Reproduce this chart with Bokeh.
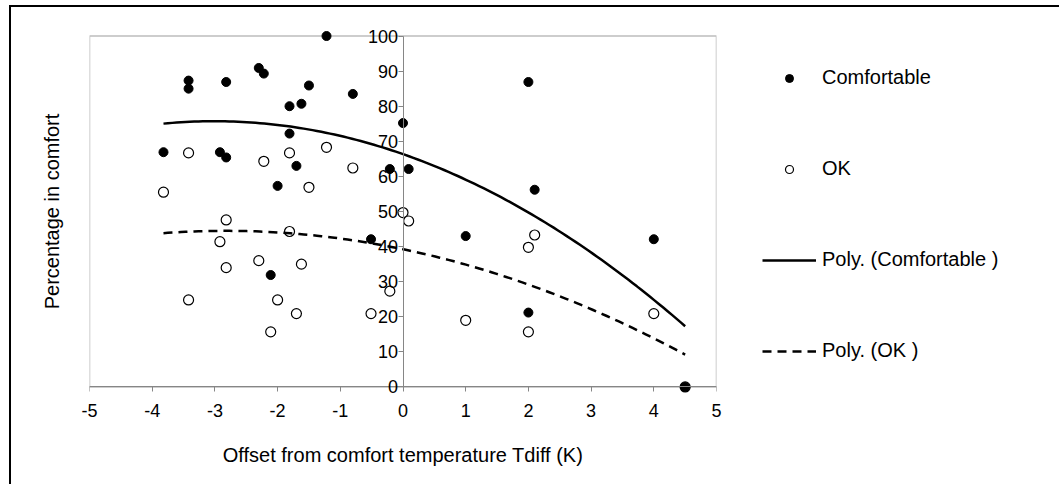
import numpy as np
from bokeh.plotting import figure
from bokeh.models import (Range1d, FixedTicker, Legend, LegendItem, BoxAnnotation,
                          Title, LinearAxis)
from bokeh.embed import file_html
from bokeh.resources import INLINE

# ---- data ----
tdiff = [-3.82, -3.42, -3.42, -2.92, -2.82, -2.82, -2.30, -2.22, -2.11, -2.00,
         -1.81, -1.81, -1.70, -1.62, -1.50, -1.22, -0.80, -0.51, -0.21, 0.0,
         0.09, 1.0, 2.0, 2.0, 2.1, 4.0, 4.5]
comfortable = [66.9, 87.3, 85.0, 66.9, 86.9, 65.4, 90.9, 89.3, 31.9, 57.3,
               80.0, 72.2, 63.0, 80.7, 85.9, 100.0, 83.5, 42.1, 62.1, 75.2,
               62.1, 43.0, 86.9, 21.2, 56.2, 42.1, 0.0]
ok = [55.5, 66.7, 24.8, 41.4, 47.6, 34.0, 36.0, 64.3, 15.7, 24.8,
      66.7, 44.3, 20.9, 35.0, 56.9, 68.3, 62.4, 20.9, 27.3, 49.7,
      47.3, 19.0, 39.8, 15.7, 43.3, 20.9, 0.0]
x_ticks = [-5, -4, -3, -2, -1, 0, 1, 2, 3, 4, 5]
y_ticks = [0, 10, 20, 30, 40, 50, 60, 70, 80, 90, 100]
x_title = "Offset from comfort temperature Tdiff (K)"
y_title = "Percentage in comfort"
labels = ["Comfortable", "OK", "Poly. (Comfortable )", "Poly. (OK )"]

# ---- 2nd order polynomial trendlines (as Excel's "Poly." trendline) ----
xa = np.array(tdiff)
cc = np.polyfit(xa, np.array(comfortable), 2)
co = np.polyfit(xa, np.array(ok), 2)
xt = np.linspace(xa.min(), xa.max(), 120)
yt_c = np.polyval(cc, xt)
yt_o = np.polyval(co, xt)

FONT = "Liberation Sans"

p = figure(frame_width=627, frame_height=372,
           min_border_left=78, min_border_right=341,
           min_border_top=18, min_border_bottom=87,
           x_range=Range1d(-5, 5), y_range=Range1d(-3, 103),
           output_backend="svg", toolbar_location=None,
           background_fill_color="white", border_fill_color="white")
p.outline_line_color = None
p.xgrid.visible = False
p.ygrid.visible = False

# plot-area border (axis limits)
box = BoxAnnotation(left=-5, right=5, bottom=0, top=100, fill_color=None,
                    line_color="#262626", line_width=1.5, level="underlay")
p.add_layout(box)

r_o = p.scatter(tdiff, ok, size=10, marker="circle",
                fill_color="white", line_color="black", line_width=1.2)
r_c = p.scatter(tdiff, comfortable, size=9, marker="circle",
                fill_color="black", line_color="black")
r_tc = p.line(xt, yt_c, line_color="black", line_width=2.5)
r_to = p.line(xt, yt_o, line_color="black", line_width=2.5, line_dash="9 6")

# x axis line + ticks at y = 0
xax = p.xaxis[0]
xax.fixed_location = 0
xax.ticker = FixedTicker(ticks=x_ticks)
xax.bounds = (-5, 5)
xax.minor_tick_line_color = None
xax.major_tick_out = 5
xax.major_tick_in = 0
xax.axis_line_color = "#868686"
xax.major_tick_line_color = "#868686"
xax.major_label_text_color = None

# x tick labels + title (below panel)
xlab = LinearAxis(ticker=FixedTicker(ticks=x_ticks),
                  major_label_overrides={t: str(t) for t in x_ticks},
                  axis_line_color=None, major_tick_line_color=None,
                  minor_tick_line_color=None, major_tick_out=0, major_tick_in=0,
                  major_label_text_font=FONT, major_label_text_font_size="18px",
                  major_label_text_color="black", major_label_standoff=6,
                  axis_label=x_title, axis_label_text_font=FONT,
                  axis_label_text_font_size="20px",
                  axis_label_text_font_style="normal",
                  axis_label_text_color="black", axis_label_standoff=24)
p.add_layout(xlab, "below")

yax = p.yaxis[0]
yax.fixed_location = 0
yax.ticker = FixedTicker(ticks=y_ticks)
yax.bounds = (0, 100)
yax.minor_tick_line_color = None
yax.major_tick_out = 5
yax.major_tick_in = 0
yax.axis_line_color = "#868686"
yax.major_tick_line_color = "#868686"
yax.major_label_text_font = FONT
yax.major_label_text_font_size = "18px"
yax.major_label_text_color = "black"
yax.major_label_standoff = 0

t = Title(text=y_title, align="center", text_font=FONT, text_font_size="20px",
          text_font_style="normal", text_color="black", standoff=54)
p.add_layout(t, "left")

legend = Legend(items=[LegendItem(label=labels[0], renderers=[r_c]),
                       LegendItem(label=labels[1], renderers=[r_o]),
                       LegendItem(label=labels[2], renderers=[r_tc]),
                       LegendItem(label=labels[3], renderers=[r_to])],
                location=(46, 35), orientation="vertical",
                glyph_width=54, glyph_height=20, label_height=20,
                label_standoff=6, spacing=68, padding=0, margin=0,
                border_line_color=None, background_fill_alpha=0,
                label_text_font=FONT, label_text_font_size="20px",
                label_text_color="black")
p.add_layout(legend, "right")

p.styles = {"border-left": "2px solid black", "border-top": "2px solid black",
            "margin-top": "5px", "margin-left": "9px"}

open("out.html", "w").write(file_html(p, INLINE))
